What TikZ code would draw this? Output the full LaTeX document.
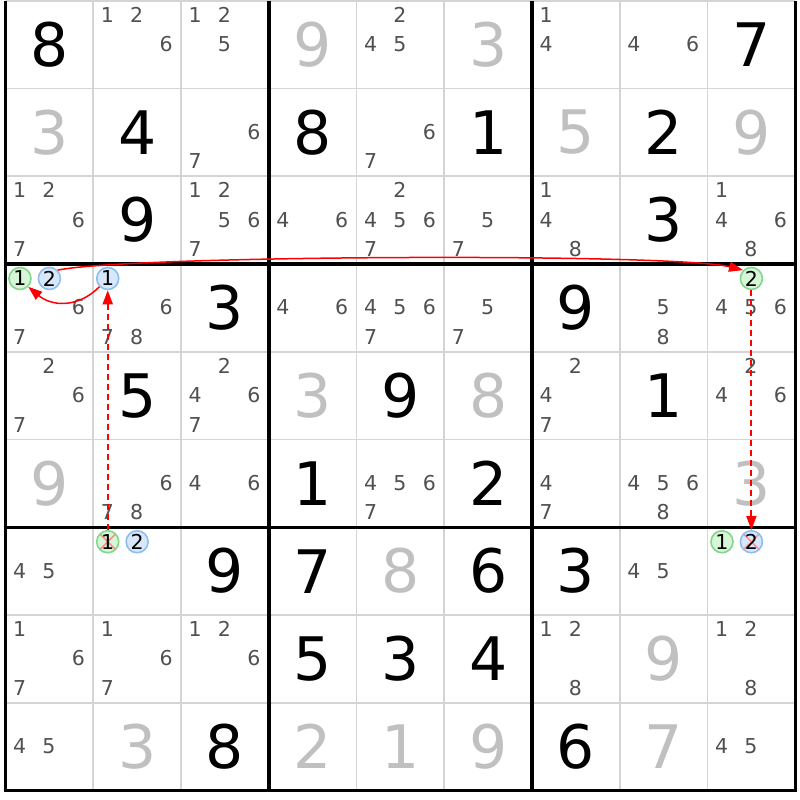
\documentclass[tikz,border=0pt]{standalone}
\usepackage{fontspec}
\setmainfont{DejaVu Sans}
\usetikzlibrary{arrows.meta}
\definecolor{candgray}{RGB}{80,80,80}
\definecolor{solvedgray}{RGB}{192,192,192}
\definecolor{thingrid}{RGB}{212,212,212}
\definecolor{ringgreen}{RGB}{130,215,140}
\definecolor{fillgreen}{RGB}{215,245,215}
\definecolor{ringblue}{RGB}{140,190,240}
\definecolor{fillblue}{RGB}{215,232,252}

% big digits: given (black) and solved (grey)
\newcommand{\given}[3]{\node [given] (g#1#2) at (#2-0.5,#1-0.5) {#3};}
\newcommand{\solved}[3]{\node [solved] (g#1#2) at (#2-0.5,#1-0.5) {#3};}
% pencil marks of one cell
\newcommand{\cands}[3]{%
  \foreach \d in {#3} {%
    \pgfmathtruncatemacro{\ci}{mod(\d-1,3)}%
    \pgfmathtruncatemacro{\cj}{(\d-1)/3}%
    \node [cand] (r#1c#2d\d) at ({#2-1+0.16+0.335*\ci},{#1-1+0.16+0.335*\cj}) {\d};
  }}
% a ringed pencil mark
\newcommand{\ringed}[4]{%
  \pgfmathtruncatemacro{\ci}{mod(#3-1,3)}%
  \pgfmathtruncatemacro{\cj}{(#3-1)/3}%
  \node [#4] (r#1c#2d#3) at ({#2-1+0.165+0.335*\ci},{#1-1+0.165+0.335*\cj}) {#3};}

\begin{document}
\begin{tikzpicture}[x=87.75pt, y=-87.75pt]
    \tikzstyle{given} = [font=\fontsize{60}{60}\selectfont, text=black, inner sep=0pt]
    \tikzstyle{solved} = [given, text=solvedgray]
    \tikzstyle{cand} = [font=\fontsize{20.5}{20.5}\selectfont, text=candgray, inner sep=0pt]
    \tikzstyle{ring} = [circle, line width=1.6pt, minimum size=22pt, inner sep=0pt, font=\fontsize{20.5}{20.5}\selectfont, text=black]
    \tikzstyle{ring1} = [ring, draw=ringgreen, fill=fillgreen]
    \tikzstyle{ring2} = [ring, draw=ringblue, fill=fillblue]
    \tikzstyle{struck} = [path picture={\draw [red!45, line width=1.5pt] (path picture bounding box.north west) -- (path picture bounding box.south east) (path picture bounding box.north east) -- (path picture bounding box.south west);}]
    \tikzstyle{link} = [draw=red, line width=1.5pt, -{Triangle[length=14pt,width=10pt]}]
    \tikzstyle{weak} = [draw=red, line width=1.8pt, dash pattern=on 6pt off 4pt, -{Triangle[length=14pt,width=10pt]}]
    \useasboundingbox (-0.0627,-0.0085) rectangle (9.054,9.108);
    % grid
    \foreach \i in {0,...,9} {
        \draw [thingrid, line width=1.8pt] (\i,0) -- (\i,9);
        \draw [thingrid, line width=1.8pt] (0,\i) -- (9,\i);
    }
    \foreach \i in {0,3,6,9}
        \draw [black, line width=3.5pt] (\i,0) -- (\i,9);
    \foreach \i in {3,6,9}
        \draw [black, line width=3.5pt] (-0.02,\i) -- (9.02,\i);
    % row 1
    \given{1}{1}{8} \cands{1}{2}{1,2,6} \cands{1}{3}{1,2,5} \solved{1}{4}{9} \cands{1}{5}{2,4,5}
    \solved{1}{6}{3} \cands{1}{7}{1,4} \cands{1}{8}{4,6} \given{1}{9}{7}
    % row 2
    \solved{2}{1}{3} \given{2}{2}{4} \cands{2}{3}{6,7} \given{2}{4}{8} \cands{2}{5}{6,7}
    \given{2}{6}{1} \solved{2}{7}{5} \given{2}{8}{2} \solved{2}{9}{9}
    % row 3
    \cands{3}{1}{1,2,6,7} \given{3}{2}{9} \cands{3}{3}{1,2,5,6,7} \cands{3}{4}{4,6} \cands{3}{5}{2,4,5,6,7}
    \cands{3}{6}{5,7} \cands{3}{7}{1,4,8} \given{3}{8}{3} \cands{3}{9}{1,4,6,8}
    % row 4
    \ringed{4}{1}{1}{ring1} \ringed{4}{1}{2}{ring2} \cands{4}{1}{6,7}
    \ringed{4}{2}{1}{ring2} \cands{4}{2}{6,7,8} \given{4}{3}{3} \cands{4}{4}{4,6} \cands{4}{5}{4,5,6,7}
    \cands{4}{6}{5,7} \given{4}{7}{9} \cands{4}{8}{5,8} \ringed{4}{9}{2}{ring1} \cands{4}{9}{4,5,6}
    % row 5
    \cands{5}{1}{2,6,7} \given{5}{2}{5} \cands{5}{3}{2,4,6,7} \solved{5}{4}{3} \given{5}{5}{9}
    \solved{5}{6}{8} \cands{5}{7}{2,4,7} \given{5}{8}{1} \cands{5}{9}{2,4,6}
    % row 6
    \solved{6}{1}{9} \cands{6}{2}{6,7,8} \cands{6}{3}{4,6} \given{6}{4}{1} \cands{6}{5}{4,5,6,7}
    \given{6}{6}{2} \cands{6}{7}{4,7} \cands{6}{8}{4,5,6,8} \solved{6}{9}{3}
    % row 7
    \cands{7}{1}{4,5} \ringed{7}{2}{1}{ring1,struck} \ringed{7}{2}{2}{ring2} \given{7}{3}{9} \given{7}{4}{7}
    \solved{7}{5}{8} \given{7}{6}{6} \given{7}{7}{3} \cands{7}{8}{4,5}
    \ringed{7}{9}{1}{ring1} \ringed{7}{9}{2}{ring2,struck}
    % row 8
    \cands{8}{1}{1,6,7} \cands{8}{2}{1,6,7} \cands{8}{3}{1,2,6} \given{8}{4}{5} \given{8}{5}{3}
    \given{8}{6}{4} \cands{8}{7}{1,2,8} \solved{8}{8}{9} \cands{8}{9}{1,2,8}
    % row 9
    \cands{9}{1}{4,5} \solved{9}{2}{3} \given{9}{3}{8} \solved{9}{4}{2} \solved{9}{5}{1}
    \solved{9}{6}{9} \given{9}{7}{6} \solved{9}{8}{7} \cands{9}{9}{4,5}
    % chain
    \path [link] (r4c1d2.north east) .. controls +(0.8,-0.17) and +(-0.8,-0.2) .. (r4c9d2.north west);
    \path [weak] (r4c9d2.south) -- (r7c9d2.north);
    \path [weak] (r7c2d1.north) -- (r4c2d1.south);
    \path [link] (r4c2d1.south west) to[out=225, in=-40, looseness=1.1] (r4c1d1.south east);
\end{tikzpicture}
\end{document}
